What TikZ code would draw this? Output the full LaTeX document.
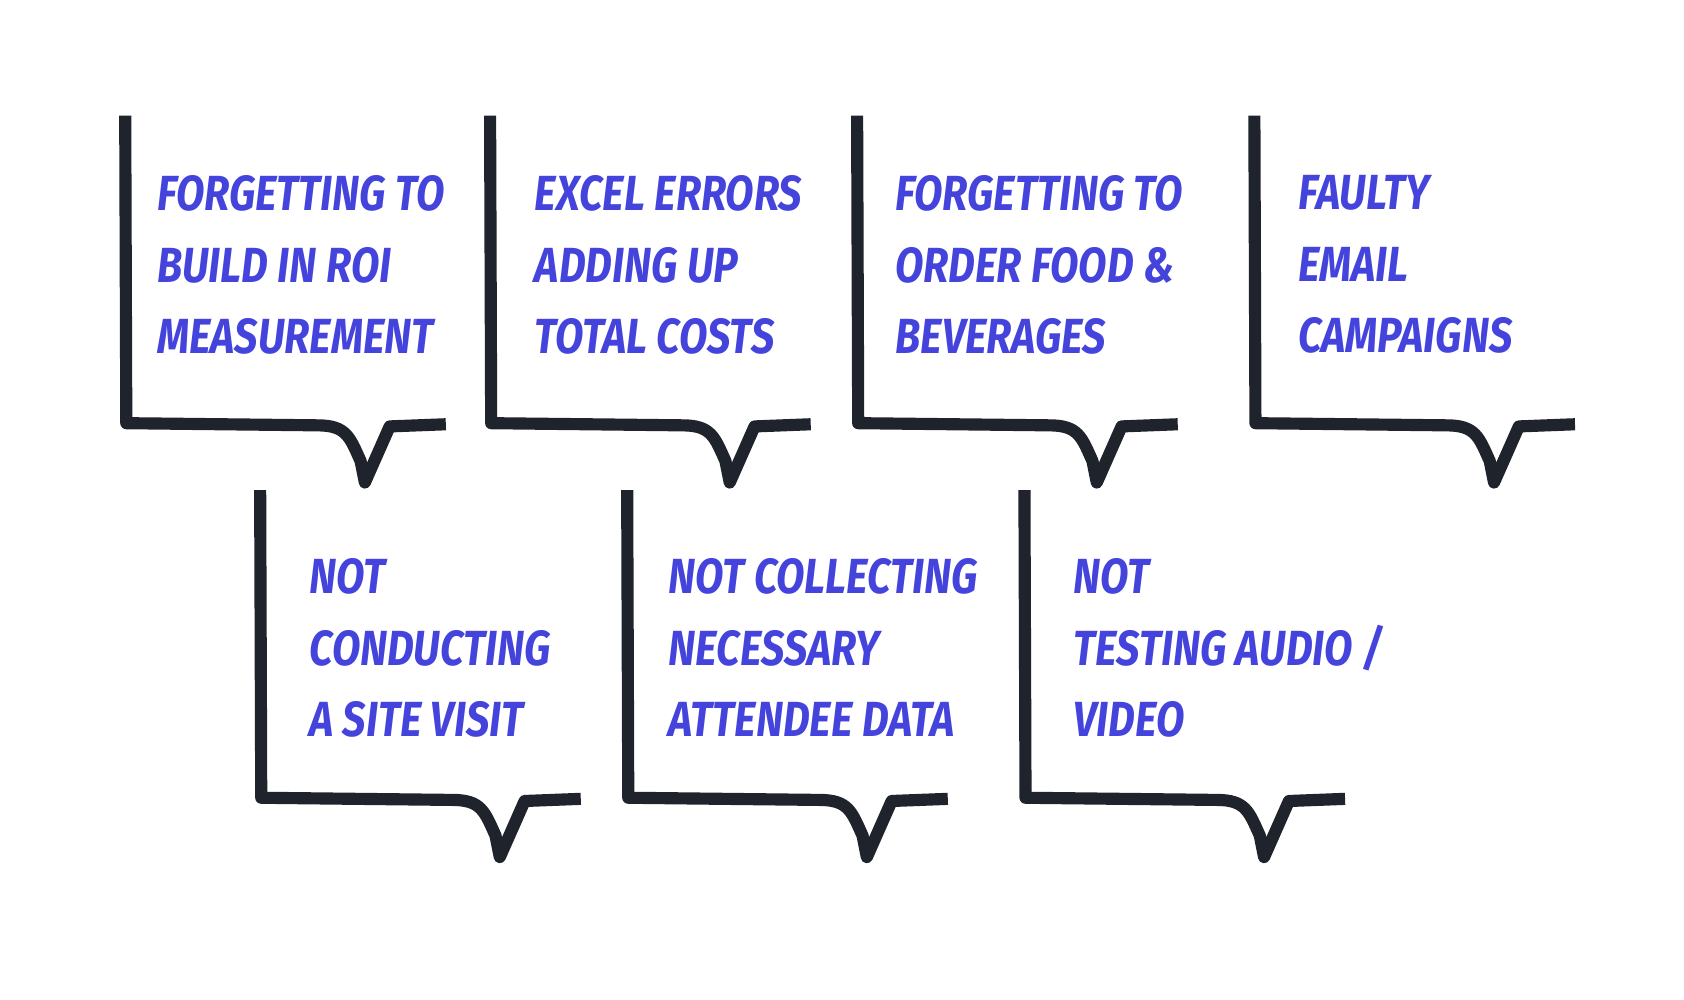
\documentclass[tikz,border=0pt]{standalone}
\usepackage{fontspec}
\setmainfont{Fira Sans}
\definecolor{ink}{HTML}{1F232B}
\definecolor{txt}{HTML}{4444DD}
\begin{document}
\begin{tikzpicture}[x=0.01cm,y=-0.01cm,
  bub/.style={draw=ink,line width=3.2pt,line join=round,line cap=butt},
  lbl/.style={anchor=north west,text=txt,font=\fontsize{13}{18.8}\selectfont\bfseries\itshape,align=left,xscale=0.84,inner sep=0pt}]
\useasboundingbox (0,0) rectangle (1560,926);
\newcommand{\bubble}[3]{%
 \draw[bub] (#1,#2) -- (#1+1,#2+285) -- (#1+178,#2+287) .. controls (#1+205,#2+287) and (#1+208,#2+298) .. (#1+218,#2+320) -- (#1+222,#2+340) -- (#1+245,#2+288) -- (#1+297,#2+286);
 \node[lbl] (#3) at (#1+28,#2+55) {};}
\bubble{116}{107}{a}
\bubble{454}{107}{b}
\bubble{794}{107}{c}
\bubble{1162}{107}{d}
\bubble{241}{454}{e}
\bubble{581}{454}{f}
\bubble{949}{454}{g}
\newcommand{\tx}[3]{\node[lbl] at (#1,#2) {#3};}
\tx{145}{162}{FORGETTING TO\\BUILD IN ROI\\MEASUREMENT}
\tx{495}{162}{EXCEL ERRORS\\ADDING UP\\TOTAL COSTS}
\tx{829}{162}{FORGETTING TO\\ORDER FOOD \&\\BEVERAGES}
\tx{1202}{162}{FAULTY\\EMAIL\\CAMPAIGNS}
\tx{286}{517}{NOT\\CONDUCTING\\A SITE VISIT}
\tx{619}{517}{NOT COLLECTING\\NECESSARY\\ATTENDEE DATA}
\tx{994}{517}{NOT\\TESTING AUDIO /\\VIDEO}
\end{tikzpicture}
\end{document}
